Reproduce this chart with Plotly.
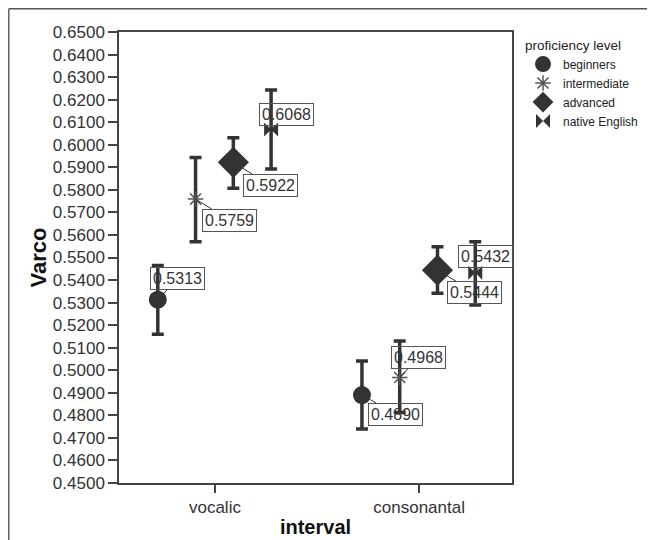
import plotly.graph_objects as go

# ---- data ----
categories = ["vocalic", "consonantal"]
groups = ["beginners", "intermediate", "advanced", "native English"]

beginners = [0.5313, 0.4890]
intermediate = [0.5759, 0.4968]
advanced = [0.5922, 0.5444]
native = [0.6068, 0.5432]

beginners_lo = [0.5160, 0.4739]
beginners_hi = [0.5465, 0.5041]
intermediate_lo = [0.5570, 0.4813]
intermediate_hi = [0.5943, 0.5130]
advanced_lo = [0.5807, 0.5341]
advanced_hi = [0.6031, 0.5548]
native_lo = [0.5892, 0.5289]
native_hi = [0.6243, 0.5570]

y_ticks = [0.45 + 0.01 * i for i in range(21)]

# ---- style ----
means = [beginners, intermediate, advanced, native]
los = [beginners_lo, intermediate_lo, advanced_lo, native_lo]
his = [beginners_hi, intermediate_hi, advanced_hi, native_hi]
dodge = [-0.28, -0.095, 0.09, 0.275]
symbols = ["circle", "asterisk-open", "diamond", "bowtie"]
sizes = [18, 13, 24, 14]
colors = ["#333333", "#555555", "#333333", "#333333"]
# label offsets (pixels) per group, per category
label_off = [
    [(20, -21), (34, 19)],
    [(34, 21), (19, -20)],
    [(37, 23), (37, 22)],
    [(15, -15), (10, -16)],
]

FONT = "Arial, Liberation Sans, sans-serif"
fig = go.Figure()

for g, name in enumerate(groups):
    xs = [i + dodge[g] for i in range(len(categories))]
    m = means[g]
    fig.add_trace(go.Scatter(
        x=xs, y=m, name=name, mode="markers",
        marker=dict(symbol=symbols[g], size=sizes[g], color=colors[g],
                    line=dict(color=colors[g], width=1.5 if g == 1 else 0)),
        error_y=dict(type="data", symmetric=False,
                     array=[his[g][i] - m[i] for i in range(len(m))],
                     arrayminus=[m[i] - los[g][i] for i in range(len(m))],
                     color="#333333", thickness=3.5, width=6),
    ))
    for i in range(len(categories)):
        ax, ay = label_off[g][i]
        fig.add_annotation(
            x=xs[i], y=m[i], text=f"{m[i]:.4f}", showarrow=True,
            arrowhead=0, arrowwidth=1, arrowcolor="#333333",
            ax=ax, ay=ay, standoff=0,
            font=dict(family=FONT, size=16, color="#333333"),
            bordercolor="#555555", borderwidth=1, borderpad=2,
            bgcolor="rgba(255,255,255,0)",
        )

# outer frame (left and top lines)
fig.add_shape(type="line", xref="paper", yref="paper",
              x0=-0.2804, x1=-0.2804, y0=1.0514, y1=-0.2,
              line=dict(color="#555555", width=1.4))
fig.add_shape(type="line", xref="paper", yref="paper",
              x0=-0.2804, x1=1.45, y0=1.0514, y1=1.0514,
              line=dict(color="#555555", width=1.4))

fig.update_layout(
    width=655, height=540,
    margin=dict(l=111, r=151, t=24, b=65),
    paper_bgcolor="white", plot_bgcolor="white",
    font=dict(family=FONT, color="#333333"),
    showlegend=True,
    legend=dict(
        title=dict(text="proficiency level", font=dict(size=13.5, color="#222222")),
        font=dict(size=12, color="#222222"),
        x=1.028, xanchor="left", y=1.0, yanchor="top",
        tracegroupgap=0, itemwidth=30,
        bgcolor="rgba(0,0,0,0)",
    ),
)
fig.update_xaxes(
    range=[-0.47, 1.455], tickmode="array",
    tickvals=list(range(len(categories))), ticktext=categories,
    ticks="outside", ticklen=8, tickwidth=1.5, tickcolor="#444444",
    showline=True, linecolor="#444444", linewidth=1.5, mirror=True,
    showgrid=False, zeroline=False,
    tickfont=dict(size=17, color="#333333"),
    title=dict(text="<b>interval</b>", font=dict(size=20, color="#111111"), standoff=4),
)
fig.update_yaxes(
    range=[0.45, 0.65], tickmode="array", tickvals=y_ticks,
    ticktext=[f"{v:.4f}" for v in y_ticks],
    ticks="outside", ticklen=9, tickwidth=1.5, tickcolor="#444444",
    showline=True, linecolor="#444444", linewidth=1.5, mirror=True,
    showgrid=False, zeroline=False,
    tickfont=dict(size=17, color="#333333"),
    title=dict(text="<b>Varco</b>", font=dict(size=22, color="#111111"), standoff=0),
)

fig.write_html("out.html")
